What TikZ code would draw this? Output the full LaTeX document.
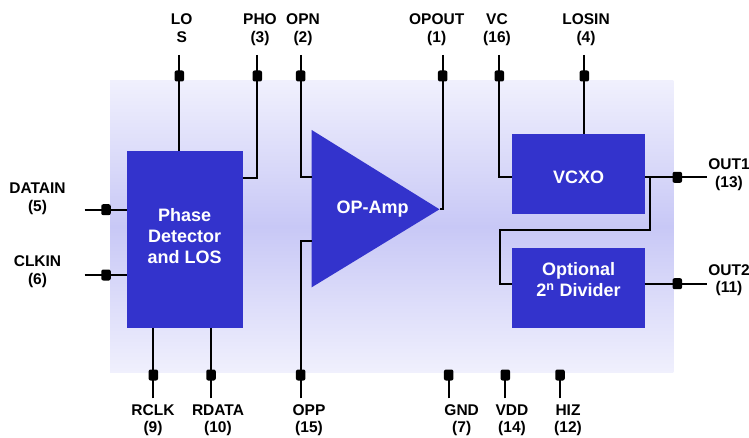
\documentclass[tikz,border=0pt]{standalone}
\usepackage{fontspec}
\setmainfont{Liberation Sans}
\definecolor{boxblue}{RGB}{51,51,204}
\definecolor{bgedge}{RGB}{240,240,253}
\definecolor{bgmid}{RGB}{200,200,246}
\begin{document}
\begin{tikzpicture}[x=1pt,y=-1pt,
  wire/.style={line width=1.7pt},
  pad/.style={fill=black, rounded corners=2pt, minimum width=9.5pt, minimum height=11pt, inner sep=0pt, outer sep=0pt},
  lbl/.style={font=\fontsize{15.5}{17.5}\selectfont\bfseries, align=center, inner sep=0pt, anchor=base},
  blk/.style={fill=boxblue, inner sep=0pt, outer sep=0pt, anchor=north west},
  btxt/.style={text=white, font=\fontsize{18}{21}\selectfont\bfseries, align=center, inner sep=0pt, anchor=base}]
\useasboundingbox (0,0) rectangle (749,438);
% background
\shade[top color=bgedge, bottom color=bgedge, middle color=bgmid] (110,80.7) rectangle (673.3,372.7);
% blocks
\node[blk, minimum width=116pt, minimum height=176.7pt] (pd) at (126.7,151) {};
\node[blk, minimum width=132.4pt, minimum height=79.7pt] (vcxo) at (512.3,134) {};
\node[blk, minimum width=132.4pt, minimum height=79.4pt] (div) at (512.3,248.3) {};
\fill[boxblue] (311.7,130) coordinate (ta) -- (439.5,209.3) coordinate (tip) -- (311.7,287.3) coordinate (tb) -- cycle;
\node[btxt] (pdt) at (184.7,264) {Phase\\Detector\\and LOS};
\node[btxt] (vct) at (578.5,183.3) {VCXO};
\node[btxt] (divt) at (578.5,296.7) {Optional\\2\textsuperscript{n} Divider};
\node[btxt] (ampt) at (372.5,213.3) {OP-Amp};
% pin coordinates
\coordinate (pLOS) at (179.3,55);
\coordinate (pPHO) at (257.3,55);
\coordinate (pOPN) at (300.7,55);
\coordinate (pOPOUT) at (442.7,55);
\coordinate (pVC) at (499.3,55);
\coordinate (pLOSIN) at (584.3,55);
\coordinate (pDATAIN) at (84.7,209.7);
\coordinate (pCLKIN) at (84.7,275);
\coordinate (pRCLK) at (153.3,398.3);
\coordinate (pRDATA) at (211,398.3);
\coordinate (pOPP) at (300.7,398.3);
\coordinate (pGND) at (448.7,398.3);
\coordinate (pVDD) at (505.3,398.3);
\coordinate (pHIZ) at (560,398.3);
\coordinate (pOUT1) at (706.7,177.3);
\coordinate (pOUT2) at (706.7,283.7);
\coordinate (jA) at (650.3,177.3);
\coordinate (jB) at (499.7,230.3);
% wires
\draw[wire] (pLOS) -- (pLOS |- pd.north);
\draw[wire] (pPHO) |- (pd.east |- 0,177.7);
\draw[wire] (pOPN) |- (ta |- 0,177.3);
\draw[wire] (pOPP) |- (ta |- 0,240.7);
\draw[wire] (pOPOUT) |- (tip);
\draw[wire] (pVC) |- (vcxo.west |- pOUT1);
\draw[wire] (pLOSIN) -- (pLOSIN |- vcxo.north);
\draw[wire] (pDATAIN) -- (pd.west |- pDATAIN);
\draw[wire] (pCLKIN) -- (pd.west |- pCLKIN);
\draw[wire] (pRCLK) -- (pRCLK |- pd.south);
\draw[wire] (pRDATA) -- (pRDATA |- pd.south);
\draw[wire] (pGND) -- ++(0,-28);
\draw[wire] (pVDD) -- ++(0,-28);
\draw[wire] (pHIZ) -- ++(0,-28);
\draw[wire] (vcxo.east |- pOUT1) -- (pOUT1);
\draw[wire] (jA) |- (jB) |- (div.west |- pOUT2);
\draw[wire] (div.east |- pOUT2) -- (pOUT2);
% pads
\node[pad] (dLOS) at (179.3,76) {};
\node[pad] (dPHO) at (257.3,76) {};
\node[pad] (dOPN) at (300.7,76) {};
\node[pad] (dOPOUT) at (442.7,76) {};
\node[pad] (dVC) at (499.3,76) {};
\node[pad] (dLOSIN) at (584.3,76) {};
\node[pad] (dDATAIN) at (106,209.7) {};
\node[pad] (dCLKIN) at (106,275) {};
\node[pad] (dRCLK) at (153.3,375) {};
\node[pad] (dRDATA) at (211,375) {};
\node[pad] (dOPP) at (300.7,375) {};
\node[pad] (dGND) at (448.7,375) {};
\node[pad] (dVDD) at (505.3,375) {};
\node[pad] (dHIZ) at (560,375) {};
\node[pad] (dOUT1) at (677.3,177.3) {};
\node[pad] (dOUT2) at (677.3,283.7) {};
% labels (anchor at baseline of last line)
\node[lbl] (lLOS) at (181.7,42.5) {LO\\S};
\node[lbl] (lPHO) at (260,42.5) {PHO\\(3)};
\node[lbl] (lOPN) at (303,42.5) {OPN\\(2)};
\node[lbl] (lOPOUT) at (436.7,42.5) {OPOUT\\(1)};
\node[lbl] (lVC) at (497,42.5) {VC\\(16)};
\node[lbl] (lLOSIN) at (586,42.5) {LOSIN\\(4)};
\node[lbl] (lDATAIN) at (37.5,211.5) {DATAIN\\(5)};
\node[lbl] (lCLKIN) at (37.5,284.2) {CLKIN\\(6)};
\node[lbl] (lRCLK) at (153,432.5) {RCLK\\(9)};
\node[lbl] (lRDATA) at (218,432.5) {RDATA\\(10)};
\node[lbl] (lOPP) at (309,432.5) {OPP\\(15)};
\node[lbl] (lGND) at (461.7,432.5) {GND\\(7)};
\node[lbl] (lVDD) at (512,432.5) {VDD\\(14)};
\node[lbl] (lHIZ) at (568,432.5) {HIZ\\(12)};
\node[lbl] (lOUT1) at (729,187.5) {OUT1\\(13)};
\node[lbl] (lOUT2) at (729,292.5) {OUT2\\(11)};
\end{tikzpicture}
\end{document}
